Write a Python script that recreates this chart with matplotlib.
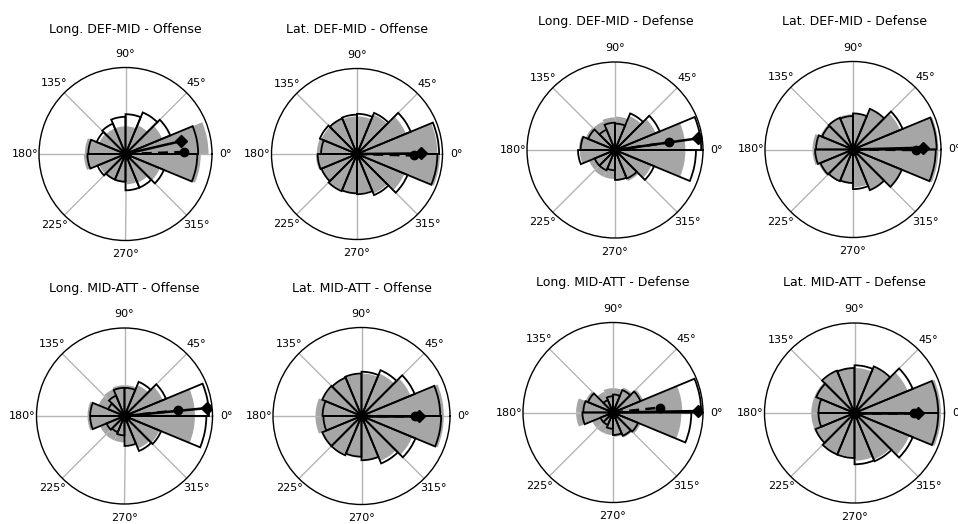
import numpy as np
import matplotlib
matplotlib.use("Agg")
import matplotlib.pyplot as plt

# ---------------- data ----------------
titles = ["Long. DEF-MID - Offense", "Lat. DEF-MID - Offense",
          "Long. DEF-MID - Defense", "Lat. DEF-MID - Defense",
          "Long. MID-ATT - Offense", "Lat. MID-ATT - Offense",
          "Long. MID-ATT - Defense", "Lat. MID-ATT - Defense"]

bin_start_deg = [0, 22.5, 45, 67.5, 90, 112.5, 135, 157.5,
                 180, 202.5, 225, 247.5, 270, 292.5, 315, 337.5]
bin_width_deg = 22.5

# relative frequencies (fraction of the outer radius), grey filled histogram
grey_long_defmid_off = [0.96, 0.46, 0.36, 0.32, 0.32, 0.32, 0.33, 0.47, 0.48, 0.33, 0.32, 0.33, 0.35, 0.36, 0.43, 0.87]
grey_lat_defmid_off = [0.94, 0.62, 0.50, 0.44, 0.44, 0.45, 0.45, 0.47, 0.48, 0.45, 0.46, 0.46, 0.46, 0.50, 0.60, 0.97]
grey_long_defmid_def = [0.80, 0.50, 0.42, 0.38, 0.37, 0.35, 0.36, 0.41, 0.40, 0.32, 0.33, 0.33, 0.35, 0.38, 0.45, 0.80]
grey_lat_defmid_def = [0.97, 0.58, 0.50, 0.41, 0.40, 0.39, 0.40, 0.46, 0.46, 0.42, 0.39, 0.39, 0.43, 0.50, 0.60, 0.97]
grey_long_midatt_off = [0.80, 0.47, 0.38, 0.35, 0.35, 0.33, 0.32, 0.42, 0.42, 0.30, 0.30, 0.30, 0.33, 0.40, 0.43, 0.80]
grey_lat_midatt_off = [0.93, 0.60, 0.52, 0.48, 0.47, 0.47, 0.47, 0.52, 0.52, 0.48, 0.47, 0.46, 0.50, 0.55, 0.62, 0.93]
grey_long_midatt_def = [0.77, 0.36, 0.30, 0.27, 0.27, 0.25, 0.33, 0.41, 0.41, 0.25, 0.25, 0.25, 0.27, 0.30, 0.33, 0.76]
grey_lat_midatt_def = [0.96, 0.64, 0.55, 0.50, 0.50, 0.50, 0.48, 0.48, 0.48, 0.47, 0.50, 0.49, 0.53, 0.56, 0.66, 0.96]

# outlined histogram
line_long_defmid_off = [0.84, 0.56, 0.52, 0.46, 0.43, 0.38, 0.36, 0.43, 0.44, 0.35, 0.32, 0.32, 0.42, 0.42, 0.48, 0.83]
line_lat_defmid_off = [0.96, 0.68, 0.52, 0.47, 0.46, 0.45, 0.47, 0.42, 0.46, 0.45, 0.47, 0.46, 0.47, 0.52, 0.64, 0.94]
line_long_defmid_def = [0.98, 0.55, 0.45, 0.30, 0.31, 0.25, 0.33, 0.39, 0.42, 0.25, 0.25, 0.23, 0.34, 0.35, 0.48, 0.92]
line_lat_defmid_def = [0.95, 0.61, 0.50, 0.41, 0.38, 0.39, 0.38, 0.42, 0.43, 0.40, 0.39, 0.38, 0.45, 0.50, 0.60, 0.94]
line_long_midatt_off = [0.96, 0.51, 0.42, 0.32, 0.32, 0.25, 0.20, 0.39, 0.39, 0.22, 0.20, 0.22, 0.34, 0.43, 0.45, 0.93]
line_lat_midatt_off = [0.89, 0.65, 0.56, 0.50, 0.48, 0.47, 0.48, 0.44, 0.43, 0.48, 0.48, 0.46, 0.50, 0.58, 0.66, 0.90]
line_long_midatt_def = [0.98, 0.33, 0.27, 0.20, 0.18, 0.15, 0.30, 0.33, 0.34, 0.15, 0.15, 0.18, 0.25, 0.28, 0.30, 0.87]
line_lat_midatt_def = [0.93, 0.70, 0.56, 0.53, 0.50, 0.51, 0.46, 0.40, 0.40, 0.47, 0.50, 0.50, 0.57, 0.58, 0.70, 0.93]

# mean vectors: outlined (solid, diamond) and grey (dashed, circle)
mean_line_deg = [13, 0.5, 8, 1.5, 5.5, 0, 1, 0]
mean_line_r = [0.66, 0.75, 0.95, 0.80, 0.94, 0.65, 0.95, 0.71]
mean_grey_deg = [2, -1.5, 8, -0.5, 6, -0.5, 6, 0]
mean_grey_r = [0.68, 0.67, 0.62, 0.72, 0.61, 0.60, 0.52, 0.66]

grey_sets = [grey_long_defmid_off, grey_lat_defmid_off, grey_long_defmid_def, grey_lat_defmid_def,
             grey_long_midatt_off, grey_lat_midatt_off, grey_long_midatt_def, grey_lat_midatt_def]
line_sets = [line_long_defmid_off, line_lat_defmid_off, line_long_defmid_def, line_lat_defmid_def,
             line_long_midatt_off, line_lat_midatt_off, line_long_midatt_def, line_lat_midatt_def]

# ---------------- layout (pixels) ----------------
W, H = 958, 524
centers = [(125.5, 154, 86.5), (357, 154, 85.5), (615, 150, 88), (853, 149.5, 88),
           (124.5, 416, 88), (361.5, 416, 88.5), (613, 412.5, 90), (854.5, 413, 90)]
title_pos = [(125.7, 30), (356.7, 29.3), (616, 21.7), (854, 21.7),
             (124.7, 288.7), (361.7, 288), (612.7, 282.7), (854.7, 282.7)]

fig = plt.figure(figsize=(W / 100, H / 100), dpi=100)
fig.patch.set_facecolor("white")

theta = np.deg2rad(bin_start_deg)
width = np.deg2rad(bin_width_deg)

for i in range(8):
    cx, cy, r = centers[i]
    ax = fig.add_axes([(cx - r) / W, 1 - (cy + r) / H, 2 * r / W, 2 * r / H],
                      projection="polar")
    ax.bar(theta, grey_sets[i], width=width, align="edge",
           color="#a6a6a6", edgecolor="none", linewidth=0, zorder=1)
    ax.bar(theta, line_sets[i], width=width, align="edge",
           facecolor="none", edgecolor="black", linewidth=1.3, zorder=3)
    ax.plot([0, np.deg2rad(mean_grey_deg[i])], [0, mean_grey_r[i]],
            color="black", lw=1.8, ls=(0, (4, 2.5)), zorder=4)
    ax.plot([np.deg2rad(mean_grey_deg[i])], [mean_grey_r[i]], "o",
            color="black", ms=6, zorder=5)
    ax.plot([0, np.deg2rad(mean_line_deg[i])], [0, mean_line_r[i]],
            color="black", lw=1.8, zorder=4)
    ax.plot([np.deg2rad(mean_line_deg[i])], [mean_line_r[i]], "D",
            color="black", ms=6.5, zorder=5)
    ax.plot([0], [0], "o", color="black", ms=7, zorder=6)

    ax.set_ylim(0, 1)
    ax.set_yticks([])
    ax.set_xticks(np.deg2rad(np.arange(0, 360, 45)))
    ax.set_xticklabels([f"{d}°" for d in range(0, 360, 45)], fontsize=8)
    ax.tick_params(axis="x", pad=-0.5)
    ax.xaxis.grid(True, color="#b5b5b5", lw=1.0)
    ax.spines["polar"].set_color("black")
    ax.spines["polar"].set_linewidth(1.0)

    tx, ty = title_pos[i]
    fig.text(tx / W, 1 - ty / H, titles[i], ha="center", va="center", fontsize=9)

fig.savefig("out.png", dpi=100, facecolor="white")
